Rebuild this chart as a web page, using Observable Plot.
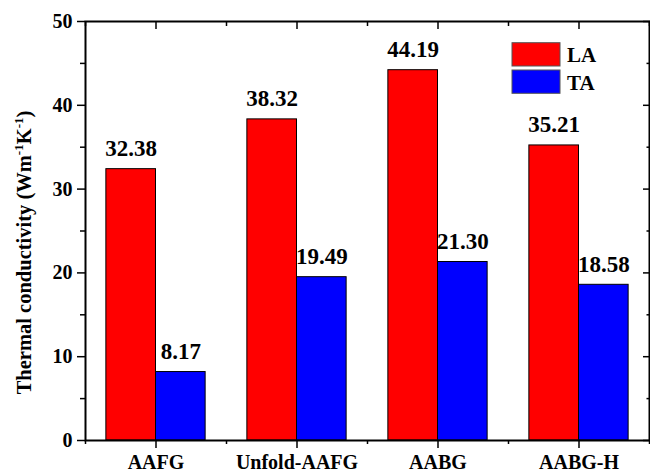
<!DOCTYPE html>
<html>
<head>
<meta charset="utf-8">
<script src="https://cdn.jsdelivr.net/npm/d3@7"></script>
<script src="https://cdn.jsdelivr.net/npm/@observablehq/plot@0.6"></script>
<style>
  body { margin: 0; background: #fff; }
</style>
</head>
<body>
<div id="chart"></div>
<script>
// Samples and the two measured directions
const categories = ["AAFG", "Unfold-AAFG", "AABG", "AABG-H"];
const seriesNames = ["LA", "TA"];
const laValues = [32.38, 38.32, 44.19, 35.21];
const taValues = [8.17, 19.49, 21.30, 18.58];
const seriesColors = ["#ff0000", "#0000ff"];
const yMajorTicks = [0, 10, 20, 30, 40, 50];
const yMinorTicks = [5, 15, 25, 35, 45];

// Category i sits at position i + 1; boundaries halfway between
const catTicks = categories.map((_, i) => i + 1);
const boundaryTicks = [0, ...catTicks].map(p => p + 0.5);
const barWidth = 0.352;

const rows = [];
categories.forEach((c, i) => {
  rows.push({category: c, pos: i + 1, series: "LA", value: laValues[i]});
  rows.push({category: c, pos: i + 1, series: "TA", value: taValues[i]});
});
const left = d => d.series === "LA" ? d.pos - barWidth : d.pos;
const right = d => d.series === "LA" ? d.pos : d.pos + barWidth;
const mid = d => (left(d) + right(d)) / 2;

const serif = "'Liberation Serif', 'Times New Roman', Times, serif";
const blank = () => "";

const plot = Plot.plot({
  width: 650,
  height: 473,
  marginLeft: 85,
  marginRight: 1,
  marginTop: 21,
  marginBottom: 33,
  style: {fontFamily: serif, fontWeight: "bold", fontSize: "20px", color: "black", background: "white"},
  x: {type: "linear", domain: [0.5, 4.5]},
  y: {domain: [0, 50]},
  color: {domain: seriesNames, range: seriesColors},
  marks: [
    Plot.rectY(rows, {x1: left, x2: right, y1: 0, y2: "value", fill: "series", stroke: "black", strokeWidth: 1}),
    Plot.text(rows, {x: mid, y: "value", text: d => d.value.toFixed(2), dy: -13, lineAnchor: "bottom", fontSize: 23, fontWeight: "bold", fill: "black"}),
    // left axis: outward ticks
    Plot.axisY({ticks: yMajorTicks, tickSize: 8, tickPadding: 5, strokeWidth: 1.5, label: null}),
    Plot.axisY({ticks: yMinorTicks, tickSize: 5, tickFormat: blank, strokeWidth: 1.5, label: null}),
    // right axis: inward ticks
    Plot.axisY({anchor: "right", ticks: yMajorTicks, tickSize: -7, tickFormat: blank, strokeWidth: 1.5, label: null}),
    Plot.axisY({anchor: "right", ticks: yMinorTicks, tickSize: -3.5, tickFormat: blank, strokeWidth: 1.5, label: null}),
    // bottom axis: outward ticks with category names
    Plot.axisX({ticks: catTicks, tickSize: 8, tickPadding: 6, tickFormat: p => categories[p - 1], strokeWidth: 1.5, label: null}),
    Plot.axisX({ticks: boundaryTicks, tickSize: 4, tickFormat: blank, strokeWidth: 1.5, label: null}),
    // top axis: inward ticks
    Plot.axisX({anchor: "top", ticks: catTicks, tickSize: -7, tickFormat: blank, strokeWidth: 1.5, label: null}),
    Plot.axisX({anchor: "top", ticks: boundaryTicks, tickSize: -4, tickFormat: blank, strokeWidth: 1.5, label: null}),
    Plot.frame({stroke: "black", strokeWidth: 2})
  ]
});

const svg = d3.select(plot);

// y-axis title with superscripted units
const title = svg.append("text")
  .attr("transform", "translate(31,252.5) rotate(-90)")
  .attr("text-anchor", "middle")
  .attr("font-size", 20.5)
  .attr("font-weight", "bold")
  .attr("fill", "black");
title.append("tspan").text("Thermal conductivity (Wm");
title.append("tspan").attr("font-size", 13).attr("dy", -8).text("-1");
title.append("tspan").attr("dy", 8).text("K");
title.append("tspan").attr("font-size", 13).attr("dy", -8).text("-1");
title.append("tspan").attr("dy", 8).text(")");

// legend in the upper right of the frame
const legend = svg.append("g").attr("transform", "translate(512,42.7)");
seriesNames.forEach((s, i) => {
  const g = legend.append("g").attr("transform", `translate(0,${i * 27.3})`);
  g.append("rect")
    .attr("width", 48).attr("height", 23.3)
    .attr("fill", seriesColors[i])
    .attr("stroke", "#555").attr("stroke-width", 1);
  g.append("text")
    .attr("x", 55).attr("y", 19.6)
    .attr("text-anchor", "start")
    .attr("font-size", 21)
    .attr("font-weight", "bold")
    .attr("fill", "black")
    .text(s);
});

document.getElementById("chart").appendChild(plot);
</script>
</body>
</html>
